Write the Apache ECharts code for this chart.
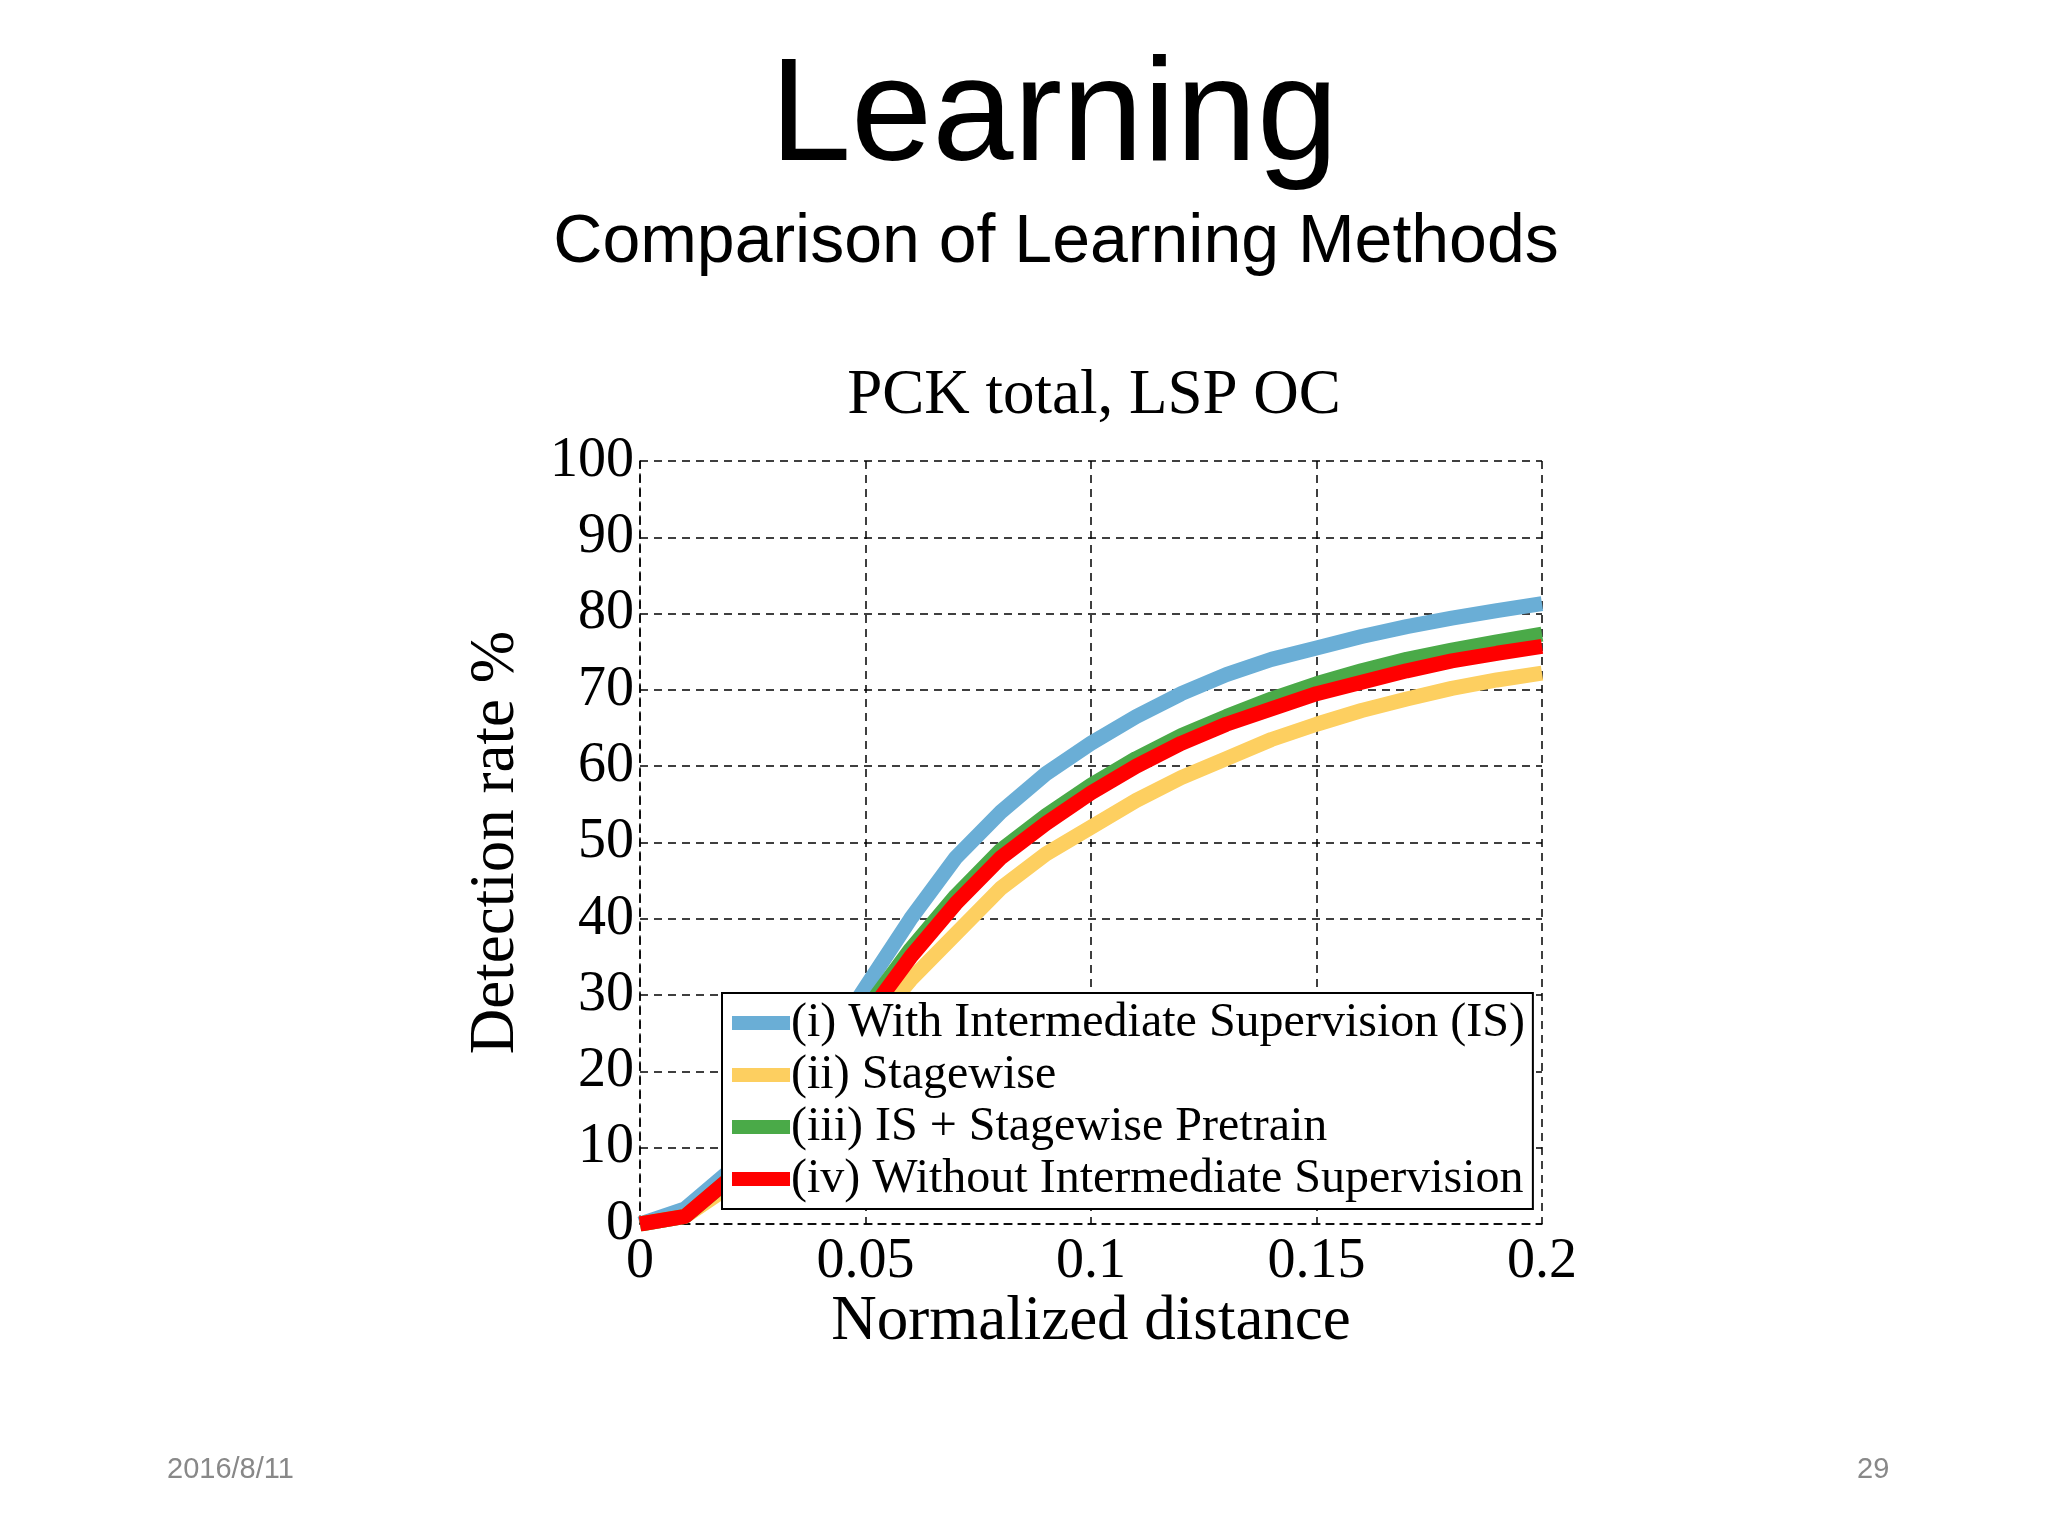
<!DOCTYPE html>
<html>
<head>
<meta charset="utf-8">
<script src="https://cdn.jsdelivr.net/npm/echarts@6/dist/echarts.min.js"></script>
<style>
  html, body { margin: 0; padding: 0; background: #fff; }
  #chart { width: 2048px; height: 1536px; }
</style>
</head>
<body>
<div id="chart"></div>
<script>
// normalized distance steps
const xs = [0, 0.01, 0.02, 0.03, 0.04, 0.05, 0.06, 0.07, 0.08, 0.09, 0.1,
            0.11, 0.12, 0.13, 0.14, 0.15, 0.16, 0.17, 0.18, 0.19, 0.2];

const withIS = [0, 2, 7, 14, 22, 31, 40, 48, 54, 59, 63, 66.5, 69.5, 72, 74, 75.5, 77, 78.3, 79.4, 80.4, 81.3];
const stagewise = [0, 1, 5, 11, 18, 25, 32, 38, 44, 48.5, 52, 55.5, 58.5, 61, 63.5, 65.5, 67.3, 68.8, 70.2, 71.3, 72.2];
const isPretrain = [0, 1, 6, 12, 20, 28, 36, 43, 49, 53.5, 57.5, 61, 64, 66.5, 68.8, 70.8, 72.5, 74, 75.2, 76.3, 77.3];
const withoutIS = [0, 1, 6, 12, 19, 27, 35, 42, 48, 52.5, 56.5, 60, 63, 65.5, 67.5, 69.5, 71, 72.5, 73.8, 74.8, 75.7];

const seriesNames = [
  '(i) With Intermediate Supervision (IS)',
  '(ii) Stagewise',
  '(iii) IS + Stagewise Pretrain',
  '(iv) Without Intermediate Supervision'
];
const seriesValues = [withIS, stagewise, isPretrain, withoutIS];
const colors = ['#6aaed6', '#fdcf60', '#4aaa48', '#ff0000'];

const serif = '"Liberation Serif", "DejaVu Serif", serif';
const sans = '"Liberation Sans", Arial, sans-serif';

const chart = echarts.init(document.getElementById('chart'));

// draw order: blue, yellow, green, red (red on top), all under the legend
const series = seriesNames.map((name, i) => ({
  name,
  type: 'line',
  data: xs.map((x, j) => [x, seriesValues[i][j]]),
  showSymbol: false,
  lineStyle: { width: 15, color: colors[i] },
  itemStyle: { color: colors[i] },
  z: 2,
  zlevel: 0,
  animation: false
}));

const dashed = { color: '#000', type: [8, 6], width: 1.5 };

chart.setOption({
  backgroundColor: '#fff',
  animation: false,
  title: [
    { text: 'Learning', left: 1049, top: 42, textAlign: 'center',
      textStyle: { fontFamily: sans, fontSize: 146, fontWeight: 'normal', color: '#000' } },
    { text: 'Comparison of Learning Methods', left: 1051, top: 204, textAlign: 'center',
      textStyle: { fontFamily: sans, fontSize: 68, fontWeight: 'normal', color: '#000' } },
    { text: 'PCK total, LSP OC', left: 1089, top: 360, textAlign: 'center',
      textStyle: { fontFamily: serif, fontSize: 63, fontWeight: 'normal', color: '#000' } },
    { text: '2016/8/11', left: 162, top: 1450,
      textStyle: { fontFamily: sans, fontSize: 29, fontWeight: 'normal', color: '#888' } },
    { text: '29', left: 1852, top: 1450,
      textStyle: { fontFamily: sans, fontSize: 29, fontWeight: 'normal', color: '#888' } }
  ],
  grid: { left: 640, top: 461, width: 902, height: 763 },
  xAxis: {
    type: 'value', min: 0, max: 0.2, interval: 0.05,
    name: 'Normalized distance', nameLocation: 'middle', nameGap: 64,
    nameTextStyle: { fontFamily: serif, fontSize: 63, color: '#000' },
    axisLine: { lineStyle: dashed },
    axisTick: { show: false },
    axisLabel: { fontFamily: serif, fontSize: 56, color: '#000', margin: 10 },
    splitLine: { show: true, lineStyle: dashed }
  },
  yAxis: {
    type: 'value', min: 0, max: 100, interval: 10,
    name: 'Detection rate %', nameLocation: 'middle', nameGap: 112,
    nameTextStyle: { fontFamily: serif, fontSize: 63, color: '#000' },
    axisLine: { show: true, lineStyle: dashed },
    axisTick: { show: false },
    axisLabel: { fontFamily: serif, fontSize: 56, color: '#000', margin: 6 },
    splitLine: { show: true, lineStyle: dashed }
  },
  legend: {
    left: 722, top: 993, orient: 'vertical',
    zlevel: 1, z: 10,
    backgroundColor: '#fff', borderColor: '#000', borderWidth: 2,
    padding: [6, 8, 6, 10], itemGap: 4,
    itemWidth: 58, itemHeight: 14,
    icon: 'rect',
    textStyle: { fontFamily: serif, fontSize: 48, color: '#000', padding: [0, 0, 0, -4] },
    data: seriesNames
  },
  series
});
</script>
</body>
</html>
